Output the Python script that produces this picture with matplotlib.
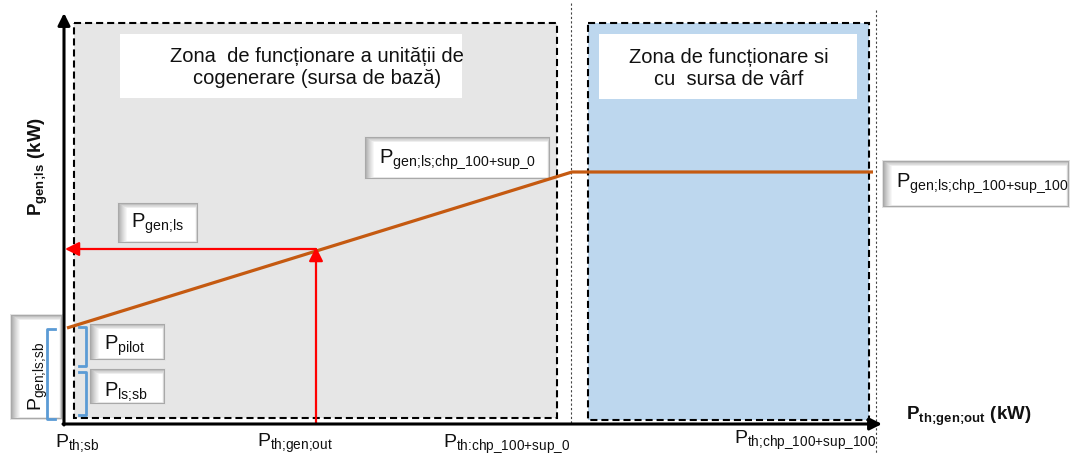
import numpy as np
import matplotlib
matplotlib.use("Agg")
import matplotlib.pyplot as plt
from matplotlib.patches import Rectangle

plt.rcParams["font.family"] = ["Liberation Sans", "DejaVu Sans"]
plt.rcParams["mathtext.fontset"] = "custom"
plt.rcParams["mathtext.rm"] = "Liberation Sans"
plt.rcParams["mathtext.it"] = "Liberation Sans:italic"
plt.rcParams["mathtext.bf"] = "Liberation Sans:bold"

# schematic operating curve P_gen;ls = f(P_th;gen;out), diagram units
curve_x = [67, 572, 873]
curve_y = [328, 172, 172]

# working point read on the curve
work_x = 316
work_y = 250

# zones: (x0, y0, x1, y1)
zone_base = (74, 23, 557, 418)
zone_peak = (588, 23, 869, 420)
zone_texts = ["Zona  de funcționare a unității de\ncogenerare (sursa de bază)",
              "Zona de funcționare si\ncu  sursa de vârf"]

# x axis marks (label, x position)
x_marks = [
    (r"P$_{\text{th;sb}}$", 55, 447),
    (r"P$_{\text{th;gen;out}}$", 257, 447),
    (r"P$_{\text{th:chp_100+sup_0}}$", 443, 447),
    (r"P$_{\text{th;chp_100+sup_100}}$", 734, 443),
]

# labels in shaded boxes: (text, box x0, y0, x1, y1, text x, baseline)
box_labels = [
    (r"P$_{\text{gen;ls;chp_100+sup_0}}$", 364, 136, 551, 180, 379, 163),
    (r"P$_{\text{gen;ls}}$", 117, 202, 199, 244, 131, 228),
    (r"P$_{\text{pilot}}$", 89, 323, 166, 361, 104, 350),
    (r"P$_{\text{ls;sb}}$", 89, 368, 166, 405, 104, 397),
    (r"P$_{\text{gen;ls;chp_100+sup_100}}$", 882, 160, 1070, 208, 896, 187),
]

fig = plt.figure(figsize=(10.7, 4.53), dpi=100)
ax = fig.add_axes([0, 0, 1, 1])
ax.set_xlim(0, 1070)
ax.set_ylim(453, 0)
ax.axis("off")

dash = (0, (3.4, 1.9))


def shadow_box(x0, y0, x1, y1, z=4):
    # white label box with a soft inner shadow on the top/left edges
    n = 10
    ax.add_patch(Rectangle((x0, y0), x1 - x0, y1 - y0, facecolor="#e2e2e2",
                           edgecolor="none", zorder=z))
    for i in range(n):
        c = 0.60 + (1.0 - 0.60) * ((i + 1) / n) ** 0.8
        ax.add_patch(Rectangle((x0 + 1 + i * 1.0, y0 + 1 + i * 0.6),
                               (x1 - 1.5 - i * 0.25) - (x0 + 1 + i * 1.0),
                               (y1 - 1.5 - i * 0.15) - (y0 + 1 + i * 0.6),
                               facecolor=(c, c, c), edgecolor="none", zorder=z))


# zones
for (x0, y0, x1, y1), fc in [(zone_base, "#e6e6e6"), (zone_peak, "#bdd7ee")]:
    ax.add_patch(Rectangle((x0, y0), x1 - x0, y1 - y0, facecolor=fc,
                           edgecolor="black", linestyle=dash, lw=1.5, zorder=1))

# zone titles
for (x0, y0, x1, y1), tx, txt in [((120, 34, 462, 98), 317, zone_texts[0]),
                                  ((599, 34, 857, 99), 729, zone_texts[1])]:
    ax.add_patch(Rectangle((x0, y0), x1 - x0, y1 - y0, facecolor="white",
                           edgecolor="none", zorder=2))
    ax.text(tx, (y0 + y1) / 2 + 2, txt, ha="center", va="center",
            fontsize=14.5, linespacing=1.2, color="#111111", zorder=3)

# thin dotted separators
ax.plot([571, 571], [3, 424], color="#444444", lw=0.8, linestyle=(0, (2, 2)), zorder=2)
ax.plot([876, 876], [10, 453], color="#444444", lw=0.8, linestyle=(0, (2, 2)), zorder=2)

# operating curve
ax.plot(curve_x, curve_y, color="#c55a11", lw=2.3, solid_capstyle="butt", zorder=5)

# red reading arrows
ax.annotate("", xy=(work_x, work_y - 3), xytext=(work_x, 424),
            arrowprops=dict(arrowstyle="-|>", color="red", lw=1.6,
                            mutation_scale=21, shrinkA=0, shrinkB=0), zorder=6)
ax.annotate("", xy=(65, work_y - 1), xytext=(work_x, work_y - 1),
            arrowprops=dict(arrowstyle="-|>", color="red", lw=1.6,
                            mutation_scale=21, shrinkA=0, shrinkB=0), zorder=6)

# left box for P_gen;ls;sb (behind the axis)
shadow_box(10, 314, 63, 420, z=3)
ax.text(38, 376, r"P$_{\text{gen;ls;sb}}$", rotation=90, ha="center", va="center",
        fontsize=14, color="#111111", zorder=7)

# shaded label boxes
for txt, x0, y0, x1, y1, tx, ty in box_labels:
    shadow_box(x0, y0, x1, y1)
    ax.text(tx, ty, txt, ha="left", va="baseline", fontsize=14.5,
            color="#111111", zorder=7)

# axes arrows
ax.annotate("", xy=(64, 13), xytext=(64, 425),
            arrowprops=dict(arrowstyle="-|>", color="black", lw=2.2,
                            mutation_scale=18, shrinkA=0, shrinkB=0), zorder=8)
ax.annotate("", xy=(882, 424), xytext=(63, 424),
            arrowprops=dict(arrowstyle="-|>", color="black", lw=2.2,
                            mutation_scale=18, shrinkA=0, shrinkB=0), zorder=8)

# blue brackets
blue = "#5b9bd5"
for ytop, ybot in [(327, 366), (372, 415)]:
    ax.plot([79, 86, 86, 79], [ytop, ytop, ybot, ybot], color=blue, lw=2,
            solid_joinstyle="round", zorder=7)
ax.plot([55, 47, 47, 55], [329, 329, 419, 419], color=blue, lw=2,
        solid_joinstyle="round", zorder=7)

# tick-like labels on x axis
for txt, x, y in x_marks:
    ax.text(x, y, txt, ha="left", va="baseline", fontsize=14, color="#111111")

# axis titles
ax.text(906, 420, r"P$_{\mathbf{th;\!gen;\!out}}$ (kW)", ha="left", va="baseline",
        fontsize=13.5, fontweight="bold", color="#111111")
ax.text(38, 166, r"P$_{\mathbf{gen;\!ls}}$ (kW)", rotation=90, ha="center",
        va="center", fontsize=13.5, fontweight="bold", color="#111111")

fig.savefig("out.png", dpi=100)
